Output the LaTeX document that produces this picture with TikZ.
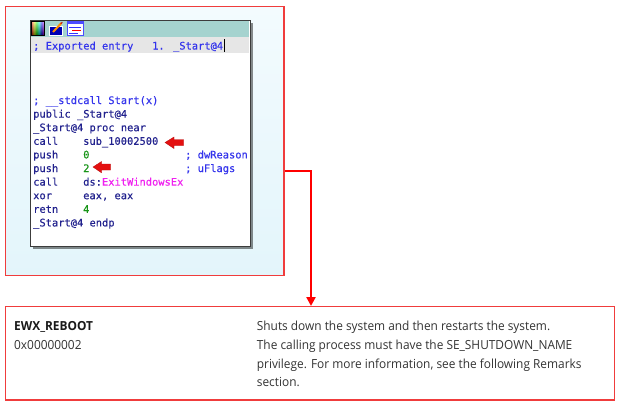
\documentclass[tikz,border=0pt]{standalone}
\usepackage{fontspec}
\usetikzlibrary{shadows,arrows.meta}
\newfontfamily\codefont{DejaVu Sans Mono}[FakeBold=0.3]
\newfontfamily\docfont{Open Sans}[FakeStretch=0.95]
\definecolor{insc}{HTML}{22228E}
\definecolor{cmtc}{HTML}{3434EC}
\definecolor{numc}{HTML}{179417}
\definecolor{magc}{HTML}{F020F0}
\definecolor{boxred}{HTML}{F03C3C}
\definecolor{conred}{HTML}{FF0000}
\definecolor{bluetop}{HTML}{F3FBFE}
\definecolor{bluebot}{HTML}{E3F5FB}
\definecolor{titlec}{HTML}{A5D3CF}
\definecolor{rowc}{HTML}{E6E6E6}
\definecolor{winb}{HTML}{3C3C3C}
\definecolor{bodyc}{HTML}{333333}
\definecolor{headc}{HTML}{1A1A1A}
\definecolor{arrc}{HTML}{E41010}
\pgfdeclarehorizontalshading{rainbow}{100bp}{color(0bp)=(red); color(25bp)=(red); color(35bp)=(yellow); color(45bp)=(green); color(55bp)=(cyan); color(65bp)=(blue); color(75bp)=(magenta); color(100bp)=(magenta)}
\tikzset{
  code/.style={font=\codefont\fontsize{10.4}{12}\selectfont, anchor=base west, inner sep=0pt, text=insc},
  cmt/.style={code, text=cmtc},
  num/.style={code, text=numc},
  doc/.style={font=\docfont\fontsize{12.5}{15}\selectfont, anchor=base west, inner sep=0pt, text=bodyc},
  dochead/.style={doc, font=\docfont\bfseries\fontsize{12.5}{15}\selectfont, text=headc},
  redbox/.style={draw=boxred, line width=1.3pt, inner sep=0pt, anchor=north west},
  conn/.style={draw=conred, line width=2.8pt, -{Triangle[length=9pt,width=9pt]}},
  marker/.style={fill=arrc, draw=arrc!80!black, line width=0.3pt},
}
\begin{document}
\begin{tikzpicture}[x=1pt,y=-1pt]
\useasboundingbox (0,0) rectangle (620,405);
% top panel
\node[redbox, top color=bluetop, bottom color=bluebot, minimum width=278.5pt, minimum height=269.5pt] (top) at (4.7,5.6) {};
% window
\node[draw=winb, line width=1.2pt, fill=white, inner sep=0pt, anchor=north west,
      minimum width=220pt, minimum height=226pt,
      drop shadow={shadow xshift=2.5pt, shadow yshift=-2.5pt, fill=black, opacity=0.45}] (win) at (30,20) {};
\fill[titlec] (30.6,20.6) rectangle (249.4,37);
\fill[rowc] (30.6,37) rectangle (249.4,53);
% icons
\shade[shading=rainbow] (31.5,21.5) rectangle (44,35);
\shade[top color=white, bottom color=black, opacity=0.55] (31.5,21.5) rectangle (44,35);
\draw[black, line width=0.6pt] (31.5,21.5) rectangle (44,35);
\fill[white] (49,26) rectangle (63,35.5);
\fill[blue!70!black] (50,27) rectangle (62,34.5);
\draw[orange!90!yellow, line width=2pt] (53,32) -- (61.5,23);
\draw[red!80!black, line width=1pt] (60.8,23.6) -- (62.3,22.2);
\fill[white] (67,21.5) rectangle (83,35);
\draw[blue!70, line width=0.8pt] (67,21.5) rectangle (83,35);
\fill[blue!70] (67,21.5) rectangle (83,24);
\draw[blue!80, line width=0.8pt] (69,27) -- (81,27);
\draw[red, line width=1.4pt] (72,30.5) -- (81,30.5);
\draw[blue!80, line width=0.8pt] (69,33) -- (78,33);
% code text
\node[cmt] (e1) at (33,49.5) {; Exported entry};
\node[cmt] (e2) at (152,49.5) {1. \_Start@4};
\draw[black, line width=1.4pt] (224.5,39) -- (224.5,52);
\node[cmt] (c0) at (33,104) {; \_\_stdcall Start(x)};
\node[code] (c1) at (33,117.6) {public \_Start@4};
\node[code] (c2) at (33,131.2) {\_Start@4 proc near};
\node[code] (m1) at (33,144.8) {call};
\node[code] (o1) at (83,144.8) {sub\_10002500};
\node[code] (m2) at (33,158.4) {push};
\node[num]  (o2) at (83,158.4) {0};
\node[cmt]  (k2) at (185,158.4) {; dwReason};
\node[code] (m3) at (33,172) {push};
\node[num]  (o3) at (83,172) {2};
\node[cmt]  (k3) at (185,172) {; uFlags};
\node[code] (m4) at (33,185.6) {call};
\node[code] (o4) at (83,185.6) {ds:\textcolor{magc}{ExitWindowsEx}};
\node[code] (m5) at (33,199.2) {xor};
\node[code] (o5) at (83,199.2) {eax, eax};
\node[code] (m6) at (33,212.8) {retn};
\node[num]  (o6) at (83,212.8) {4};
\node[code] (c9) at (33,226.4) {\_Start@4 endp};
% red pointer arrows
\path[marker] (165,142.5) -- (174,137) -- (174,139.5) -- (183.5,139.5) -- (183.5,145.5) -- (174,145.5) -- (174,148.5) -- cycle;
\path[marker] (93,167) -- (101.5,161.5) -- (101.5,164) -- (110.5,164) -- (110.5,170) -- (101.5,170) -- (101.5,172.8) -- cycle;
% bottom panel
\node[redbox, fill=white, minimum width=609.3pt, minimum height=93.3pt] (desc) at (4.7,306) {};
\node[dochead] (h1) at (14,330) {EWX\_REBOOT};
\node[doc] (h2) at (14,349) {0x00000002};
\node[doc] (d1) at (256.7,330) {Shuts down the system and then restarts the system.};
\node[doc] (d2) at (256.7,349) {The calling process must have the SE\_SHUTDOWN\_NAME};
\node[doc] (d3) at (256.7,368) {privilege. For more information, see the following Remarks};
\node[doc] (d4) at (256.7,386.7) {section.};
% connector
\draw[conn] ([yshift=-30pt]top.east) -| ([xshift=1pt]desc.north);
\end{tikzpicture}
\end{document}
